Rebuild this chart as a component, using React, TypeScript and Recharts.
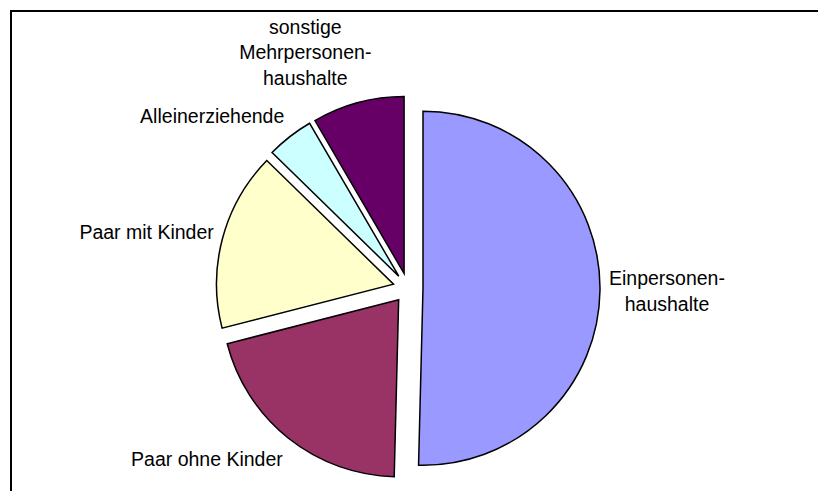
import { Pie, PieChart, Sector } from "recharts";

const categories = [
  "Einpersonenhaushalte",
  "Paar ohne Kinder",
  "Paar mit Kinder",
  "Alleinerziehende",
  "sonstige Mehrpersonenhaushalte",
];
const values = [50.4, 20.6, 16.3, 4.3, 8.4];
const labelLines = [
  ["Einpersonen-", "haushalte"],
  ["Paar ohne Kinder"],
  ["Paar mit Kinder"],
  ["Alleinerziehende"],
  ["sonstige", "Mehrpersonen-", "haushalte"],
];
const colors = ["#9999FF", "#993366", "#FFFFCC", "#CCFFFF", "#660066"];

const data = categories.map((name, i) => ({
  name,
  value: values[i],
  fill: colors[i],
}));

const RADIAN = Math.PI / 180;
const EXPLODE = 15;
const LABEL_GAP = 9;
const FONT_SIZE = 19.5;
const LINE_H = 25.5;
const FONT = '"Liberation Sans", Arial, sans-serif';

let ctx: CanvasRenderingContext2D | null = null;
function textWidth(s: string) {
  if (!ctx) ctx = document.createElement("canvas").getContext("2d");
  if (!ctx) return s.length * FONT_SIZE * 0.5;
  ctx.font = `${FONT_SIZE}px ${FONT}`;
  return ctx.measureText(s).width;
}

// pull each slice out along its mid angle
const ExplodedSector = (props: any) => {
  const { cx, cy, midAngle } = props;
  const dx = EXPLODE * Math.cos(-midAngle * RADIAN);
  const dy = EXPLODE * Math.sin(-midAngle * RADIAN);
  return (
    <Sector
      {...props}
      cx={cx + dx}
      cy={cy + dy}
      stroke="#000"
      strokeWidth={1.5}
    />
  );
};

const renderLabel = (props: any) => {
  const { cx, cy, midAngle, outerRadius, index } = props;
  const dirX = Math.cos(-midAngle * RADIAN);
  const dirY = Math.sin(-midAngle * RADIAN);
  const dist = outerRadius + EXPLODE + LABEL_GAP;
  const px = cx + dist * dirX;
  const py = cy + dist * dirY;
  const lines = labelLines[index];
  const w = Math.max(...lines.map(textWidth));
  const h = lines.length * LINE_H;
  // labels near the top/bottom sit more centred over their point
  const shift = Math.min(1, 0.5 + Math.abs(dirX));
  const boxX = px + Math.sign(dirX) * shift * (w / 2);
  const boxY = py + dirY * (h / 2 + 5);
  return (
    <text
      key={`label-${index}`}
      textAnchor="middle"
      dominantBaseline="central"
      fontFamily={FONT}
      fontSize={FONT_SIZE}
      fill="#000"
    >
      {lines.map((line, i) => (
        <tspan
          key={i}
          x={boxX}
          y={boxY + (i - (lines.length - 1) / 2) * LINE_H}
        >
          {line}
        </tspan>
      ))}
    </text>
  );
};

export default function App() {
  return (
    <div
      style={{
        position: "absolute",
        left: 0,
        top: 0,
        width: 818,
        height: 491,
        overflow: "hidden",
        background: "#fff",
      }}
    >
      <div
        style={{
          position: "absolute",
          left: 10,
          top: 10,
          width: 900,
          height: 600,
          borderTop: "2px solid #000",
          borderLeft: "2px solid #000",
        }}
      />
      <div style={{ position: "absolute", left: 0, top: 0 }}>
        <PieChart width={818} height={491}>
          <Pie
            data={data}
            dataKey="value"
            nameKey="name"
            cx={403}
            cy={283}
            outerRadius={177}
            startAngle={90}
            endAngle={-270}
            stroke="#000"
            strokeWidth={1.5}
            shape={ExplodedSector}
            activeShape={ExplodedSector}
            inactiveShape={ExplodedSector}
            label={renderLabel}
            labelLine={false}
            isAnimationActive={false}
          />
        </PieChart>
      </div>
    </div>
  );
}
